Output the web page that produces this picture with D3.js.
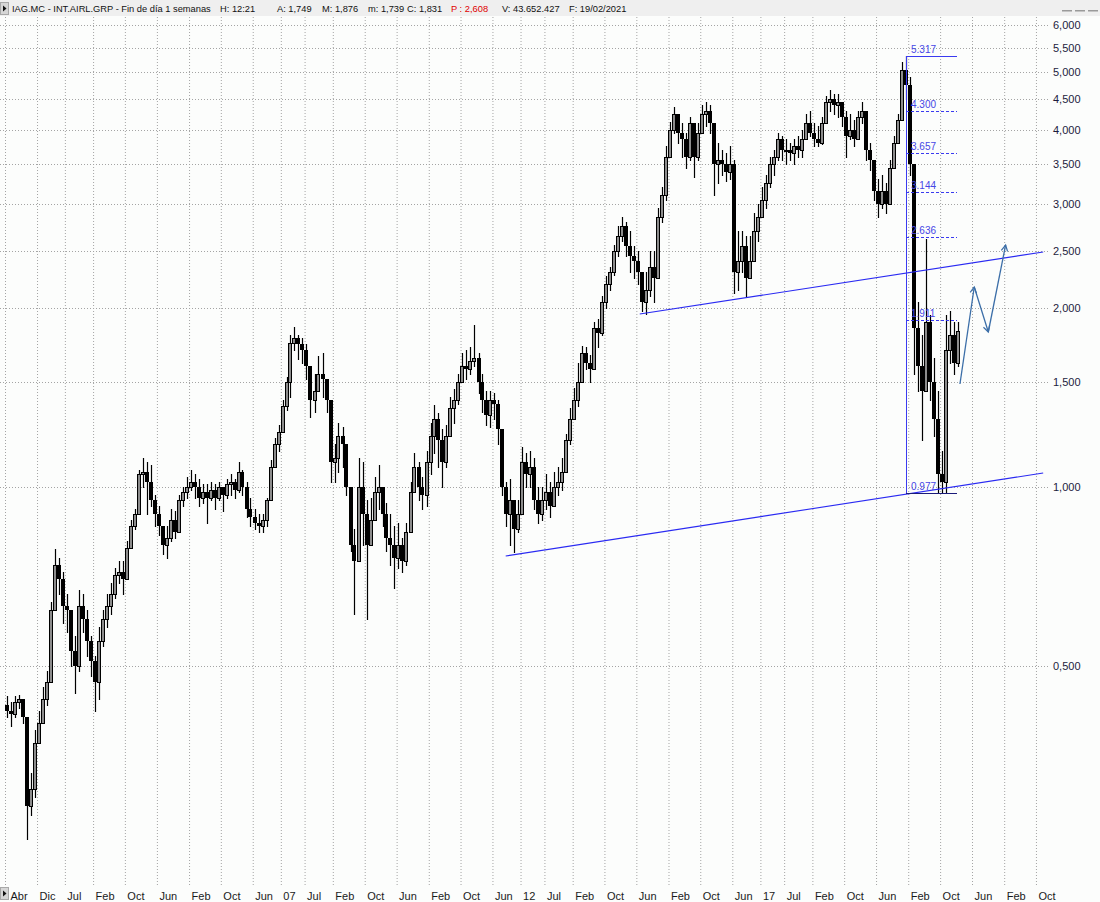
<!DOCTYPE html>
<html><head><meta charset="utf-8">
<script src="https://cdn.jsdelivr.net/npm/d3@7"></script>
<style>
html,body{margin:0;padding:0;background:#fcfdfc;}
svg{display:block;font-family:"Liberation Sans",Arial,sans-serif;}
</style></head><body>
<svg id="chart" width="1100" height="902"></svg>
<script>
// ---------------- DATA (monthly candles) ----------------
const firstMonth = new Date(2001, 3, 1);   // Abr 2001
const endMonth = new Date(2021, 2, 1);     // exclusive: last candle Feb 2021
const firstOpen = 0.43;
const closes = [
 .42,.415,.435,.44,.41,.29,.31,.37,.40,
 .44,.47,.62,.74,.70,.63,.62,.53,.50,.63,.60,.55,
 .51,.47,.55,.60,.63,.66,.71,.72,.70,.79,.86,.90,
 1.05,1.06,1.02,.95,.90,.86,.80,.82,.88,.84,.95,.98,
 1.00,1.02,1.00,.96,.98,.96,.99,.96,1.00,.97,1.01,1.02,
 .99,1.06,1.00,.92,.89,.87,.86,.88,.95,1.08,1.18,1.24,
 1.37,1.50,1.75,1.78,1.74,1.70,1.60,1.40,1.45,1.55,1.52,1.40,
 1.10,1.12,1.22,1.18,1.00,.80,.75,1.00,.90,.80,.88,.98,
 1.00,.90,.82,.80,.76,.80,.75,.84,.98,1.08,1.00,.97,
 1.10,1.22,1.30,1.20,1.10,1.22,1.36,1.40,1.50,1.60,1.58,1.63,
 1.65,1.50,1.40,1.32,1.40,1.38,1.25,1.00,.90,.95,.85,.90,
 1.10,1.05,1.08,.95,.90,.95,.98,.93,1.00,1.02,1.06,1.20,
 1.30,1.40,1.50,1.68,1.62,1.58,1.85,1.82,2.05,2.20,2.30,2.50,
 2.65,2.75,2.55,2.45,2.40,2.30,2.05,2.15,2.35,2.25,2.85,3.10,
 3.60,4.00,4.25,3.95,3.85,3.60,4.10,3.60,3.95,4.25,4.30,4.10,
 3.50,3.55,3.50,3.40,3.50,2.30,2.40,2.55,2.25,2.40,2.70,2.85,
 3.05,3.25,3.50,3.60,3.85,3.70,3.70,3.65,3.75,3.70,3.85,4.10,
 3.95,3.85,3.80,4.10,4.45,4.50,4.40,4.45,4.20,3.90,4.00,3.85,
 4.20,4.30,3.70,3.55,3.15,3.00,3.15,3.00,3.45,3.80,4.15,5.05,
 4.75,3.50,1.85,1.60,1.45,1.90,1.50,1.30,1.05,1.02,1.70,1.80,
 1.62,1.831
];
const highs = [
 .445,.435,.445,.447,.44,.41,.33,.39,.42,
 .46,.49,.64,.785,.76,.72,.66,.62,.56,.67,.66,.62,
 .56,.52,.58,.62,.66,.69,.73,.75,.75,.81,.88,.92,
 1.07,1.12,1.10,1.09,.97,.93,.86,.86,.92,.91,.97,1.00,
 1.04,1.07,1.05,1.03,1.01,1.01,1.02,1.01,1.02,1.00,1.03,1.05,
 1.03,1.10,1.07,1.02,.96,.92,.90,.90,.96,1.11,1.21,1.27,
 1.40,1.53,1.80,1.86,1.80,1.78,1.74,1.60,1.55,1.66,1.68,1.52,
 1.40,1.18,1.28,1.26,1.18,1.00,.85,1.12,1.10,.95,.96,1.04,
 1.09,1.00,.94,.90,.86,.87,.82,.87,1.02,1.14,1.10,1.04,
 1.15,1.28,1.375,1.33,1.25,1.27,1.42,1.46,1.55,1.68,1.70,1.72,
 1.875,1.68,1.55,1.45,1.45,1.44,1.40,1.25,1.02,1.03,.95,.95,
 1.17,1.14,1.15,1.12,1.00,1.00,1.05,1.02,1.06,1.08,1.12,1.23,
 1.36,1.47,1.62,1.73,1.72,1.67,1.90,1.92,2.10,2.27,2.35,2.56,
 2.75,2.85,2.80,2.70,2.55,2.50,2.30,2.30,2.50,2.50,2.95,3.20,
 3.75,4.12,4.37,4.25,4.10,3.95,4.20,4.10,4.10,4.40,4.46,4.40,
 4.10,3.80,3.70,3.65,3.75,3.55,2.70,2.70,2.65,2.65,2.90,3.00,
 3.20,3.35,3.60,3.70,3.95,3.90,3.85,3.80,3.85,3.90,4.00,4.25,
 4.30,4.10,4.05,4.20,4.55,4.67,4.60,4.60,4.45,4.30,4.25,4.15,
 4.30,4.46,4.30,3.80,3.55,3.30,3.35,3.25,3.55,3.90,4.25,5.20,
 5.317,4.90,3.40,2.05,1.80,2.62,1.95,1.65,1.45,1.15,1.95,1.98,
 1.90,1.90
];
const lows = [
 .41,.395,.41,.425,.40,.255,.28,.30,.37,
 .40,.43,.47,.62,.66,.59,.57,.50,.45,.49,.57,.52,
 .48,.42,.44,.54,.58,.61,.65,.69,.66,.70,.79,.85,
 .90,1.00,.90,.93,.86,.83,.77,.76,.81,.82,.84,.93,
 .96,.99,.96,.93,.94,.87,.95,.92,.95,.91,.96,.97,
 .96,.98,.97,.89,.86,.85,.84,.84,.86,.95,1.08,1.15,
 1.24,1.35,1.42,1.70,1.64,1.62,1.52,1.31,1.34,1.45,1.42,1.34,
 1.02,1.02,1.06,1.08,.97,.78,.61,.75,.80,.60,.80,.88,
 .92,.86,.78,.74,.676,.73,.72,.74,.84,.98,.95,.92,
 .93,1.05,1.14,1.08,1.00,1.08,1.22,1.28,1.38,1.50,1.52,1.55,
 1.60,1.44,1.34,1.27,1.26,1.30,1.18,.97,.86,.80,.777,.84,
 .90,1.00,1.00,.92,.87,.88,.92,.89,.93,.97,.99,1.06,
 1.18,1.30,1.37,1.50,1.58,1.50,1.58,1.72,1.80,2.00,2.15,2.28,
 2.45,2.60,2.45,2.30,2.25,2.20,1.98,1.96,2.10,2.05,2.25,2.80,
 3.05,3.60,3.95,3.80,3.60,3.45,3.55,3.33,3.55,3.95,4.05,3.95,
 3.10,3.25,3.35,3.28,3.30,2.12,2.15,2.30,2.09,2.25,2.40,2.60,
 2.85,2.95,3.20,3.35,3.55,3.55,3.50,3.55,3.50,3.60,3.60,3.85,
 3.90,3.75,3.75,3.78,4.10,4.30,4.25,4.20,4.05,3.60,3.85,3.75,
 3.85,4.10,3.55,3.42,3.05,2.85,2.95,2.90,3.00,3.45,3.80,4.15,
 4.50,3.35,1.55,1.45,1.20,1.45,1.40,1.22,0.98,0.977,0.98,1.62,
 1.55,1.60
];

const yTickValues = [0.5,1,1.5,2,2.5,3,3.5,4,4.5,5,5.5,6];
const yTickLabels = ["0,500","1,000","1,500","2,000","2,500","3,000","3,500","4,000","4,500","5,000","5,500","6,000"];

const xTickMonths = ["2001-04","2001-12","2002-07","2003-02","2003-10","2004-06","2005-02","2005-10","2006-06",
 "2007-01","2007-07","2008-02","2008-10","2009-06","2010-02","2010-10","2011-06",
 "2012-01","2012-07","2013-02","2013-10","2014-06","2015-02","2015-10","2016-06",
 "2017-01","2017-07","2018-02","2018-10","2019-06","2020-02","2020-10","2021-06","2022-02","2022-10"];
const xTickLabels = ["Abr","Dic","Jul","Feb","Oct","Jun","Feb","Oct","Jun",
 "07","Jul","Feb","Oct","Jun","Feb","Oct","Jun",
 "12","Jul","Feb","Oct","Jun","Feb","Oct","Jun",
 "17","Jul","Feb","Oct","Jun","Feb","Oct","Jun","Feb","Oct"];

const fibLevels = [5.317, 4.300, 3.657, 3.144, 2.636, 1.911, 0.977];
const fibLabels = ["5.317","4.300","3.657","3.144","2.636","1.911","0.977"];
const fibStart = "2020-01-16", fibEnd = "2021-02-07";

const lowerChannel = [["2011-09-10", 0.766], ["2022-11-25", 1.056]];
const upperChannel = [["2014-06-27", 1.956], ["2022-11-25", 2.488]];
const projection = [["2021-03-01", 1.491], ["2021-06-18", 2.17], ["2021-10-03", 1.827], ["2022-02-12", 2.557]];

const headerParts = [
 ["IAG.MC - INT.AIRL.GRP - Fin de día 1 semanas", 12, "#111"],
 ["H: 12:21", 220, "#111"], ["A: 1,749", 277, "#111"], ["M: 1,876", 322, "#111"],
 ["m: 1,739", 368, "#111"], ["C: 1,831", 407, "#111"], ["P : 2,608", 451, "#e00000"],
 ["V: 43.652.427", 502, "#111"], ["F: 19/02/2021", 569, "#111"]
];

// ---------------- LAYOUT ----------------
const W = 1100, H = 902, plotR = 1048, plotT = 17, plotB = 885;
const parse = d3.timeParse("%Y-%m-%d");
const parseM = d3.timeParse("%Y-%m");

const x = d3.scaleTime().domain([firstMonth, new Date(2022, 11, 1)]).range([5, 5 + 260 * 3.996]);
const y = d3.scaleLog().domain([0.5, 6]).range([665.7, 25.1]).interpolate(d3.interpolateRound);

const svg = d3.select("#chart");
svg.append("rect").attr("width", W).attr("height", H).attr("fill", "#fcfdfc");

const defs = svg.append("defs");
defs.append("clipPath").attr("id", "clip").append("rect")
  .attr("x", 0).attr("y", plotT).attr("width", plotR).attr("height", plotB - plotT);
defs.append("marker").attr("id", "arr").attr("viewBox", "-8 -5 10 10")
  .attr("refX", 0).attr("refY", 0).attr("markerWidth", 10).attr("markerHeight", 10)
  .attr("markerUnits", "userSpaceOnUse").attr("orient", "auto")
  .append("path").attr("d", "M-6,-3.2L0,0L-6,3.2").attr("fill", "none")
  .attr("stroke", "#3b6ea8").attr("stroke-width", 1.2);

// ---- gridlines ----
const gridStyle = g => {
  g.select(".domain").remove();
  g.selectAll("line").attr("stroke", "#a4a4a4").attr("stroke-dasharray", "1,2");
};
svg.append("g").attr("transform", `translate(${plotR},0)`)
  .call(d3.axisLeft(y).tickValues(yTickValues).tickSize(plotR).tickFormat(""))
  .call(gridStyle);
const xTickDates = xTickMonths.map(parseM);
svg.append("g").attr("transform", `translate(0,${plotB})`)
  .call(d3.axisTop(x).tickValues(xTickDates).tickSize(plotB - plotT).tickFormat(""))
  .call(gridStyle);

// ---- axes labels ----
const yAx = svg.append("g").attr("transform", `translate(${plotR},0)`)
  .call(d3.axisRight(y).tickValues(yTickValues).tickSize(0).tickPadding(5)
    .tickFormat((d, i) => yTickLabels[i]));
yAx.select(".domain").remove();
yAx.selectAll("text").attr("font-size", 11).attr("fill", "#1c1c3c")
  .attr("font-family", '"Liberation Sans",Arial,sans-serif');

const xAx = svg.append("g").attr("transform", `translate(0,${plotB})`)
  .call(d3.axisBottom(x).tickValues(xTickDates).tickSize(0).tickPadding(0)
    .tickFormat((d, i) => xTickLabels[i]));
xAx.select(".domain").remove();
xAx.selectAll("text").attr("font-size", 11).attr("fill", "#1a1a1a")
  .attr("font-family", '"Liberation Sans",Arial,sans-serif')
  .attr("text-anchor", "start").attr("dy", null).attr("y", 15).attr("dx", 2);
xAx.selectAll(".tick").filter((d, i) => i === 0).select("text").attr("dx", 5);

// ---- candles ----
const months = d3.timeMonth.range(firstMonth, endMonth);
const candles = months.map((d, i) => ({
  date: d, open: i ? closes[i - 1] : firstOpen, high: highs[i], low: lows[i], close: closes[i]
}));
const cg = svg.append("g").attr("clip-path", "url(#clip)");
const cs = cg.selectAll("g.c").data(candles).join("g").attr("class", "c");
cs.each(function (c) {
  const g = d3.select(this);
  const cx = Math.round(x(d3.timeDay.offset(c.date, 14)));
  const hi = Math.max(c.high, c.open, c.close), lo = Math.min(c.low, c.open, c.close);
  g.append("line").attr("x1", cx + 0.5).attr("x2", cx + 0.5)
    .attr("y1", y(hi)).attr("y2", y(lo) + 1).attr("stroke", "#000").attr("stroke-width", 1.2);
  const yt = y(Math.max(c.open, c.close)), yb = y(Math.min(c.open, c.close));
  if (c.close >= c.open) {
    g.append("rect").attr("x", cx - 1.5).attr("y", yt + 0.5).attr("width", 3)
      .attr("height", Math.max(yb - yt, 1)).attr("fill", "#8c8c8c").attr("stroke", "#000").attr("stroke-width", 1);
  } else {
    g.append("rect").attr("x", cx - 2).attr("y", yt).attr("width", 4)
      .attr("height", Math.max(yb - yt, 2)).attr("fill", "#000");
  }
});

// ---- channel lines ----
const lg = svg.append("g").attr("clip-path", "url(#clip)");
[lowerChannel, upperChannel].forEach(seg => {
  lg.append("line")
    .attr("x1", x(parse(seg[0][0]))).attr("y1", y(seg[0][1]))
    .attr("x2", x(parse(seg[1][0]))).attr("y2", y(seg[1][1]))
    .attr("stroke", "#2a2af2").attr("stroke-width", 1.1);
});

// ---- fibonacci retracement ----
const fx0 = Math.round(x(parse(fibStart))), fx1 = Math.round(x(parse(fibEnd)));
lg.append("line").attr("x1", fx0 + 0.5).attr("x2", fx0 + 0.5)
  .attr("y1", y(fibLevels[0])).attr("y2", y(fibLevels[fibLevels.length - 1]))
  .attr("stroke", "#3a3af0").attr("stroke-width", 1);
fibLevels.forEach((v, i) => {
  const first = i === 0, last = i === fibLevels.length - 1;
  lg.append("line").attr("x1", fx0).attr("x2", fx1)
    .attr("y1", y(v) + 0.5).attr("y2", y(v) + 0.5)
    .attr("stroke", last ? "#1b1b7a" : "#3a3af0").attr("stroke-width", 1)
    .attr("stroke-dasharray", first || last ? null : "3,2");
  lg.append("text").attr("x", fx0 + 5).attr("y", y(v) - 3)
    .attr("font-size", 10).attr("fill", "#4646e6").text(fibLabels[i]);
});

// ---- projection arrows ----
for (let i = 0; i < projection.length - 1; i++) {
  const a = projection[i], b = projection[i + 1];
  lg.append("line")
    .attr("x1", x(parse(a[0]))).attr("y1", y(a[1]))
    .attr("x2", x(parse(b[0]))).attr("y2", y(b[1]))
    .attr("stroke", "#3b6ea8").attr("stroke-width", 1.3).attr("marker-end", "url(#arr)");
}

// ---- header ----
svg.append("rect").attr("x", 0).attr("y", 0).attr("width", W).attr("height", 16).attr("fill", "#efefef");
const icon = (ix, iy) => {
  svg.append("rect").attr("x", ix + 0.5).attr("y", iy + 0.5).attr("width", 8).attr("height", 12)
    .attr("fill", "#d6d6d6").attr("stroke", "#a8a8a8");
  svg.append("path").attr("d", `M${ix + 3},${iy + 3.5}L${ix + 6.5},${iy + 6.5}L${ix + 3},${iy + 9.5}Z`).attr("fill", "#111");
};
icon(0, 2);
icon(0, 887);
svg.append("g").selectAll("text").data(headerParts).join("text")
  .attr("x", d => d[1]).attr("y", 12).attr("font-size", 9.3).attr("fill", d => d[2]).text(d => d[0]);
[1062, 1075, 1088].forEach(px => svg.append("rect").attr("x", px).attr("y", 10).attr("width", 10).attr("height", 1.5).attr("fill", "#9a9a9a"));
</script>
</body></html>
